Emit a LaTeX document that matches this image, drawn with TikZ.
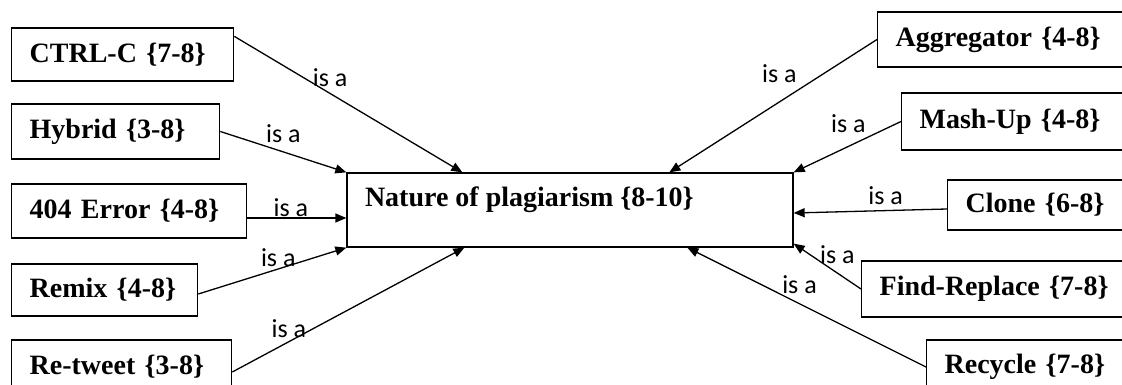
\documentclass[tikz,border=0pt]{standalone}
\usepackage{fontspec}
\setmainfont{Liberation Serif}
\newfontfamily\labfont{Carlito}
\usepackage{tikz}
\usetikzlibrary{arrows.meta}

\begin{document}
\begin{tikzpicture}[
  x=1pt, y=1pt, >={Triangle[length=11pt, width=9pt]}, line width=1.3pt,
  box/.style={draw, anchor=west, inner xsep=18pt, inner ysep=0pt, align=left, font=\fontsize{28}{32}\selectfont\bfseries},
  lab/.style={font=\labfont\fontsize{26}{30}\selectfont, inner sep=0pt, anchor=base}
]
\useasboundingbox (0,0) rectangle (1122,385);
\node[draw, minimum width=446pt, minimum height=74pt, inner sep=0pt,
  label={[anchor=base west, xshift=18pt, yshift=-34pt, inner sep=0pt, font=\fontsize{28}{32}\selectfont\bfseries]north west:Nature of plagiarism \{8-10\}}] (N) at (570,175) {};
\node[box, text width=186pt, minimum height=53pt] (C) at (11,330.5) {CTRL-C \{7-8\}};
\node[box, text width=172pt, minimum height=55pt] (H) at (11,253.5) {Hybrid \{3-8\}};
\node[box, text width=199pt, minimum height=54pt] (Er) at (11,174) {404 Error \{4-8\}};
\node[box, text width=150pt, minimum height=52pt] (Rm) at (11,95) {Remix \{4-8\}};
\node[box, text width=184pt, minimum height=54pt] (Rt) at (11,18) {Re-tweet \{3-8\}};
\node[box, text width=222pt, minimum height=55pt] (Ag) at (877,345.5) {Aggregator \{4-8\}};
\node[box, text width=198pt, minimum height=57pt] (Mu) at (901,263.5) {Mash-Up \{4-8\}};
\node[box, text width=152pt, minimum height=50pt] (Cl) at (947,180) {Clone \{6-8\}};
\node[box, text width=238pt, minimum height=56pt] (Fr) at (861,96) {Find-Replace \{7-8\}};
\node[box, text width=173pt, minimum height=54pt] (Rc) at (926,18) {Recycle \{7-8\}};
\draw[->] ([yshift=-9pt]C.north east) -- node[lab, pos=0.42, yshift=7pt]{is a} ([xshift=116pt]N.north west);
\draw[->] (H.east) -- node[lab, pos=0.5, yshift=9pt]{is a} (N.north west);
\draw[->] ([yshift=-7pt]Er.east) -- node[lab, pos=0.44, yshift=1pt]{is a} ([yshift=-8pt]N.west);
\draw[->] ([yshift=-4pt]Rm.east) -- node[lab, pos=0.54, yshift=2pt]{is a} (N.south west);
\draw[->] ([yshift=-5pt]Rt.east) -- node[lab, pos=0.244, yshift=4pt]{is a} ([xshift=118pt]N.south west);
\draw[->] (Ag.west) -- node[lab, pos=0.47, yshift=19pt]{is a} ([xshift=323pt]N.north west);
\draw[->] (Mu.west) -- node[lab, pos=0.49, yshift=14pt]{is a} (N.north east);
\draw[->] ([yshift=-4pt]Cl.west) -- node[lab, pos=0.4, yshift=6pt]{is a} ([yshift=-3pt]N.east);
\draw[->] (Fr.west) -- node[lab, pos=0.35, yshift=10pt]{is a} ([yshift=4pt]N.south east);
\draw[->] (Rc.west) -- node[lab, pos=0.53, yshift=10pt]{is a} ([xshift=341pt]N.south west);
\end{tikzpicture}
\end{document}
